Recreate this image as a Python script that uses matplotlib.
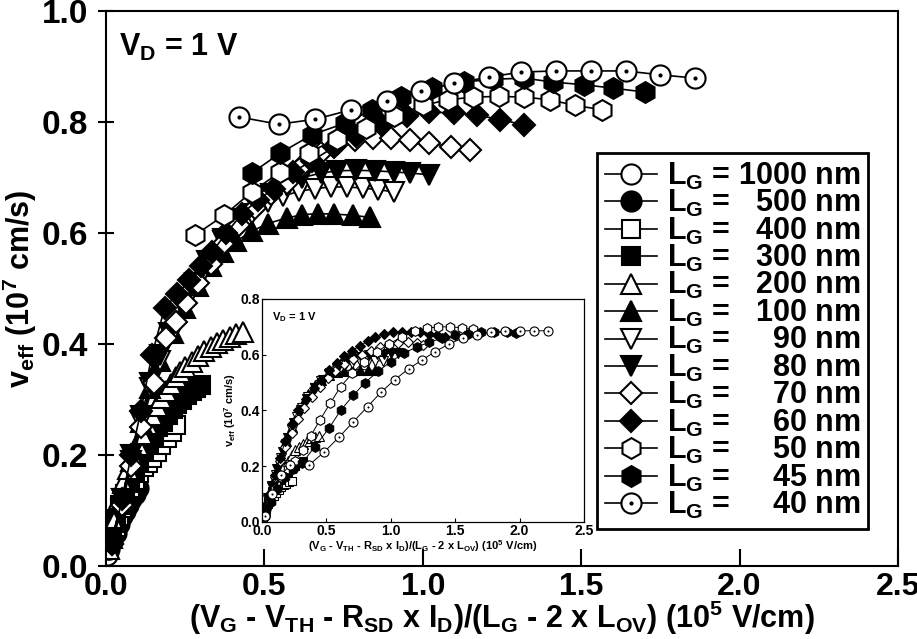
import numpy as np
import matplotlib.pyplot as plt
from matplotlib.ticker import FormatStrFormatter

plt.rcParams['font.family'] = 'Liberation Sans'
plt.rcParams['font.weight'] = 'bold'
plt.rcParams['mathtext.fontset'] = 'custom'
plt.rcParams['mathtext.rm'] = 'Liberation Sans:bold'
plt.rcParams['mathtext.it'] = 'Liberation Sans:bold'
plt.rcParams['mathtext.bf'] = 'Liberation Sans:bold'
plt.rcParams['mathtext.default'] = 'rm'

# gate lengths (nm), legend order
lengths = ['1000', '500', '400', '300', '200', '100', '90', '80', '70', '60', '50', '45', '40']

# ---- main plot data (x in 1e5 V/cm, v_eff in 1e7 cm/s) ----
x_1000 = [0.003, 0.006, 0.009, 0.012, 0.015, 0.018, 0.021, 0.024, 0.027, 0.03]
y_1000 = [0.02, 0.03, 0.037, 0.044, 0.05, 0.057, 0.063, 0.07, 0.076, 0.082]
x_500 = [0.01, 0.02, 0.03, 0.04, 0.05, 0.06, 0.07, 0.08, 0.09, 0.10]
y_500 = [0.03, 0.045, 0.06, 0.075, 0.09, 0.10, 0.11, 0.12, 0.13, 0.14]
x_400 = [0.01, 0.02, 0.03, 0.04, 0.05, 0.06, 0.075, 0.09, 0.105, 0.12, 0.132, 0.144, 0.16, 0.175, 0.191, 0.207, 0.222]
y_400 = [0.03, 0.05, 0.07, 0.09, 0.105, 0.12, 0.14, 0.155, 0.168, 0.178, 0.186, 0.195, 0.205, 0.218, 0.231, 0.241, 0.254]
x_300 = [0.01, 0.02, 0.03, 0.045, 0.06, 0.075, 0.09, 0.105, 0.12, 0.135, 0.15, 0.165, 0.18, 0.195, 0.21, 0.225, 0.24, 0.255, 0.27, 0.285, 0.30]
y_300 = [0.03, 0.06, 0.085, 0.11, 0.13, 0.15, 0.17, 0.19, 0.205, 0.22, 0.235, 0.25, 0.26, 0.272, 0.283, 0.292, 0.30, 0.308, 0.315, 0.32, 0.326]
x_200 = [0.01, 0.025, 0.04, 0.055, 0.07, 0.085, 0.10, 0.115, 0.13, 0.145, 0.16, 0.175, 0.19, 0.205, 0.22, 0.235, 0.25, 0.27, 0.29, 0.31, 0.33, 0.35, 0.37, 0.39, 0.41, 0.432]
y_200 = [0.03, 0.08, 0.12, 0.15, 0.175, 0.197, 0.218, 0.237, 0.255, 0.272, 0.288, 0.302, 0.316, 0.328, 0.34, 0.35, 0.358, 0.368, 0.378, 0.387, 0.395, 0.402, 0.408, 0.413, 0.418, 0.422]
x_100 = [0.02, 0.05, 0.08, 0.11, 0.14, 0.17, 0.21, 0.25, 0.29, 0.33, 0.37, 0.41, 0.46, 0.51, 0.57, 0.62, 0.67, 0.72, 0.78, 0.833]
y_100 = [0.05, 0.12, 0.19, 0.26, 0.32, 0.37, 0.42, 0.465, 0.505, 0.54, 0.565, 0.585, 0.603, 0.617, 0.627, 0.633, 0.635, 0.634, 0.632, 0.628]
x_90 = [0.02, 0.05, 0.08, 0.11, 0.14, 0.17, 0.21, 0.25, 0.29, 0.33, 0.37, 0.41, 0.46, 0.51, 0.56, 0.61, 0.66, 0.71, 0.76, 0.81, 0.86, 0.91]
y_90 = [0.05, 0.12, 0.19, 0.26, 0.32, 0.37, 0.42, 0.47, 0.51, 0.55, 0.585, 0.61, 0.635, 0.655, 0.667, 0.675, 0.68, 0.683, 0.683, 0.681, 0.678, 0.674]
x_80 = [0.02, 0.05, 0.08, 0.11, 0.14, 0.17, 0.20, 0.24, 0.28, 0.32, 0.37, 0.42, 0.47, 0.52, 0.57, 0.62, 0.68, 0.73, 0.79, 0.85, 0.91, 0.96, 1.02]
y_80 = [0.05, 0.12, 0.2, 0.27, 0.33, 0.38, 0.42, 0.47, 0.51, 0.55, 0.59, 0.625, 0.65, 0.67, 0.685, 0.70, 0.708, 0.712, 0.713, 0.712, 0.71, 0.708, 0.705]
x_70 = [0.02, 0.05, 0.08, 0.11, 0.15, 0.19, 0.22, 0.253, 0.29, 0.33, 0.37, 0.42, 0.47, 0.52, 0.57, 0.62, 0.68, 0.733, 0.786, 0.843, 0.9, 0.96, 1.02, 1.09, 1.15]
y_70 = [0.04, 0.11, 0.18, 0.25, 0.33, 0.41, 0.44, 0.474, 0.51, 0.545, 0.58, 0.615, 0.645, 0.67, 0.69, 0.72, 0.745, 0.762, 0.768, 0.771, 0.771, 0.768, 0.762, 0.755, 0.75]
x_60 = [0.02, 0.05, 0.08, 0.11, 0.145, 0.185, 0.225, 0.263, 0.30, 0.335, 0.38, 0.43, 0.48, 0.53, 0.59, 0.65, 0.72, 0.79, 0.87, 0.95, 1.02, 1.10, 1.17, 1.245, 1.32]
y_60 = [0.04, 0.12, 0.2, 0.28, 0.38, 0.465, 0.49, 0.515, 0.54, 0.566, 0.60, 0.635, 0.66, 0.68, 0.71, 0.73, 0.755, 0.775, 0.795, 0.81, 0.818, 0.816, 0.813, 0.804, 0.795]
x_50 = [0.28, 0.373, 0.46, 0.55, 0.64, 0.73, 0.82, 0.91, 1.0, 1.08, 1.16, 1.24, 1.32, 1.40, 1.48, 1.566]
y_50 = [0.596, 0.632, 0.674, 0.71, 0.745, 0.77, 0.79, 0.81, 0.83, 0.84, 0.845, 0.846, 0.845, 0.84, 0.83, 0.822]
x_45 = [0.46, 0.55, 0.65, 0.755, 0.84, 0.93, 1.03, 1.13, 1.22, 1.32, 1.41, 1.51, 1.60, 1.70]
y_45 = [0.708, 0.744, 0.777, 0.798, 0.822, 0.845, 0.862, 0.872, 0.877, 0.879, 0.872, 0.867, 0.861, 0.854]
x_40 = [0.42, 0.545, 0.661, 0.774, 0.887, 0.993, 1.10, 1.21, 1.31, 1.42, 1.53, 1.64, 1.75, 1.86]
y_40 = [0.809, 0.796, 0.805, 0.822, 0.838, 0.856, 0.870, 0.881, 0.890, 0.892, 0.892, 0.892, 0.885, 0.879]

# ---- inset data ----
ix_1000 = [0.005, 0.01, 0.015, 0.02, 0.025, 0.03, 0.035, 0.04]
iy_1000 = [0.01, 0.018, 0.025, 0.032, 0.04, 0.047, 0.054, 0.06]
ix_500 = [0.01, 0.02, 0.03, 0.045, 0.06, 0.075, 0.09, 0.11]
iy_500 = [0.02, 0.035, 0.05, 0.065, 0.08, 0.09, 0.10, 0.11]
ix_400 = [0.01, 0.03, 0.05, 0.07, 0.09, 0.11, 0.13, 0.15, 0.17, 0.19, 0.21, 0.23]
iy_400 = [0.02, 0.045, 0.065, 0.08, 0.095, 0.105, 0.115, 0.125, 0.132, 0.138, 0.143, 0.147]
ix_300 = [0.01, 0.03, 0.05, 0.08, 0.11, 0.14, 0.17, 0.20, 0.23, 0.26, 0.29, 0.32]
iy_300 = [0.02, 0.05, 0.08, 0.11, 0.13, 0.15, 0.165, 0.178, 0.19, 0.20, 0.21, 0.22]
ix_200 = [0.02, 0.05, 0.08, 0.11, 0.14, 0.17, 0.20, 0.23, 0.26, 0.29, 0.32, 0.35, 0.38, 0.41, 0.44]
iy_200 = [0.04, 0.08, 0.12, 0.15, 0.18, 0.20, 0.22, 0.24, 0.26, 0.27, 0.28, 0.29, 0.30, 0.305, 0.31]
ix_100 = [0.02, 0.05, 0.08, 0.11, 0.15, 0.19, 0.23, 0.27, 0.31, 0.36, 0.41, 0.46, 0.52, 0.58, 0.64, 0.70, 0.76, 0.82, 0.88]
iy_100 = [0.04, 0.08, 0.125, 0.17, 0.23, 0.29, 0.34, 0.385, 0.42, 0.46, 0.49, 0.51, 0.527, 0.537, 0.543, 0.546, 0.547, 0.546, 0.544]
ix_90 = [0.02, 0.05, 0.08, 0.11, 0.15, 0.19, 0.23, 0.27, 0.31, 0.36, 0.41, 0.46, 0.52, 0.58, 0.64, 0.70, 0.76, 0.82, 0.88, 0.94]
iy_90 = [0.04, 0.08, 0.125, 0.17, 0.23, 0.28, 0.33, 0.375, 0.41, 0.45, 0.48, 0.505, 0.53, 0.55, 0.563, 0.572, 0.577, 0.579, 0.579, 0.577]
ix_80 = [0.02, 0.05, 0.08, 0.12, 0.16, 0.20, 0.25, 0.30, 0.35, 0.41, 0.47, 0.53, 0.59, 0.65, 0.71, 0.77, 0.83, 0.89, 0.95, 1.0, 1.06]
iy_80 = [0.04, 0.085, 0.13, 0.19, 0.25, 0.30, 0.355, 0.40, 0.44, 0.48, 0.51, 0.535, 0.555, 0.57, 0.583, 0.592, 0.598, 0.602, 0.604, 0.605, 0.605]
ix_70 = [0.02, 0.06, 0.10, 0.14, 0.18, 0.23, 0.28, 0.33, 0.39, 0.45, 0.51, 0.57, 0.64, 0.71, 0.78, 0.85, 0.92, 0.99, 1.06, 1.13, 1.20, 1.25]
iy_70 = [0.04, 0.10, 0.16, 0.22, 0.27, 0.32, 0.37, 0.41, 0.45, 0.485, 0.515, 0.54, 0.565, 0.585, 0.60, 0.615, 0.627, 0.637, 0.643, 0.645, 0.642, 0.635]
ix_60 = [0.02, 0.06, 0.10, 0.14, 0.18, 0.23, 0.28, 0.34, 0.40, 0.46, 0.52, 0.58, 0.64, 0.70, 0.76, 0.82, 0.88, 0.95, 1.02, 1.09, 1.16, 1.23, 1.30, 1.36, 1.42]
iy_60 = [0.04, 0.10, 0.17, 0.23, 0.29, 0.35, 0.40, 0.44, 0.48, 0.51, 0.545, 0.57, 0.595, 0.615, 0.632, 0.648, 0.662, 0.673, 0.68, 0.683, 0.683, 0.68, 0.675, 0.67, 0.665]
ix_50 = [0.02, 0.06, 0.10, 0.15, 0.20, 0.26, 0.32, 0.38, 0.45, 0.53, 0.61, 0.70, 0.79, 0.89, 0.99, 1.09, 1.19, 1.28, 1.37, 1.46, 1.55, 1.64]
iy_50 = [0.02, 0.07, 0.12, 0.16, 0.19, 0.22, 0.26, 0.31, 0.366, 0.426, 0.485, 0.533, 0.575, 0.61, 0.64, 0.665, 0.685, 0.695, 0.70, 0.70, 0.697, 0.693]
ix_45 = [0.02, 0.07, 0.12, 0.18, 0.24, 0.31, 0.41, 0.52, 0.61, 0.71, 0.80, 0.90, 1.0, 1.1, 1.2, 1.3, 1.4, 1.5, 1.6, 1.7, 1.8, 1.9, 1.97]
iy_45 = [0.02, 0.07, 0.12, 0.16, 0.19, 0.21, 0.27, 0.336, 0.40, 0.455, 0.50, 0.54, 0.575, 0.605, 0.628, 0.645, 0.66, 0.67, 0.676, 0.68, 0.68, 0.68, 0.678]
ix_40 = [0.02, 0.08, 0.15, 0.22, 0.365, 0.48, 0.60, 0.71, 0.82, 0.925, 1.03, 1.14, 1.24, 1.34, 1.45, 1.56, 1.67, 1.78, 1.89, 2.0, 2.11, 2.22]
iy_40 = [0.02, 0.10, 0.17, 0.205, 0.204, 0.25, 0.305, 0.36, 0.414, 0.466, 0.51, 0.55, 0.58, 0.61, 0.638, 0.66, 0.672, 0.68, 0.685, 0.686, 0.686, 0.686]

main_x = [x_1000, x_500, x_400, x_300, x_200, x_100, x_90, x_80, x_70, x_60, x_50, x_45, x_40]
main_y = [y_1000, y_500, y_400, y_300, y_200, y_100, y_90, y_80, y_70, y_60, y_50, y_45, y_40]
ins_x = [ix_1000, ix_500, ix_400, ix_300, ix_200, ix_100, ix_90, ix_80, ix_70, ix_60, ix_50, ix_45, ix_40]
ins_y = [iy_1000, iy_500, iy_400, iy_300, iy_200, iy_100, iy_90, iy_80, iy_70, iy_60, iy_50, iy_45, iy_40]

# marker styles
markers = ['o', 'o', 's', 's', '^', '^', 'v', 'v', 'D', 'D', 'h', 'h', 'o']
faces = ['white', 'black', 'white', 'black', 'white', 'black', 'white', 'black',
         'white', 'black', 'white', 'black', 'white']
msize = {'o': 14.5, 's': 12.5, '^': 14.5, 'v': 14.5, 'D': 11, 'h': 15}

fig = plt.figure(figsize=(9.17, 6.39), dpi=100)
ax = fig.add_axes([0.1156, 0.1142, 0.8637, 0.8686])

handles = []
for i in range(len(lengths)):
    m = markers[i]
    ln, = ax.plot(main_x[i], main_y[i], color='black', lw=1.2, marker=m, ms=msize[m],
                  mfc=faces[i], mec='black', mew=1.5)
    if lengths[i] == '40':
        dot, = ax.plot(main_x[i], main_y[i], ls='none', marker='o', ms=3, color='black', mew=0)
        handles.append((ln, dot))
    else:
        handles.append(ln)

ax.set_xlim(0, 2.5)
ax.set_ylim(0, 1.0)
ax.set_xticks(np.arange(0, 2.51, 0.5))
ax.set_yticks(np.arange(0, 1.01, 0.2))
ax.xaxis.set_major_formatter(FormatStrFormatter('%.1f'))
ax.yaxis.set_major_formatter(FormatStrFormatter('%.1f'))
ax.tick_params(axis='x', direction='in', length=12, width=1.5, labelsize=23, pad=4)
ax.tick_params(axis='y', direction='inout', length=12, width=1.5, labelsize=24, pad=7)
for s in ax.spines.values():
    s.set_linewidth(1.5)
ax.set_xlabel('(V$_G$ - V$_{TH}$ - R$_{SD}$ x I$_D$)/(L$_G$ - 2 x L$_{OV}$) (10$^5$ V/cm)',
              fontsize=22, fontweight='bold', labelpad=-2)
ax.set_ylabel('v$_{eff}$ (10$^7$ cm/s)', fontsize=22, fontweight='bold', labelpad=2)
ax.text(0.017, 0.962, 'V$_D$ = 1 V', transform=ax.transAxes, fontsize=22,
        fontweight='bold', va='top', ha='left')

# legend labels with right-aligned numbers
labels = []
for L in lengths:
    pad = '  ' * (4 - len(L))
    labels.append('L$_G$ = ' + pad + L + ' nm')
leg = ax.legend(handles, labels, loc='upper left',
                bbox_to_anchor=(597 / 917, 1 - 153 / 639), bbox_transform=fig.transFigure,
                frameon=True, fancybox=False, edgecolor='black', framealpha=1,
                prop={'family': 'Liberation Sans', 'weight': 'bold', 'size': 22},
                labelspacing=-0.12, handlelength=1.7, handletextpad=0.35,
                borderpad=0.25, borderaxespad=0)
leg.get_frame().set_linewidth(2)

# ---- inset ----
ax2 = fig.add_axes([0.2857, 0.1831, 0.3511, 0.349])
isize = {'o': 6.5, 's': 6, '^': 7, 'v': 7, 'D': 5, 'h': 7}
for i in range(len(lengths)):
    m = markers[i]
    ax2.plot(ins_x[i], ins_y[i], color='black', lw=0.7, marker=m, ms=isize[m],
             mfc=faces[i], mec='black', mew=0.8)
    if lengths[i] == '40':
        ax2.plot(ins_x[i], ins_y[i], ls='none', marker='o', ms=1.5, color='black', mew=0)
ax2.set_xlim(0, 2.5)
ax2.set_ylim(0, 0.8)
ax2.set_xticks(np.arange(0, 2.51, 0.5))
ax2.set_yticks(np.arange(0, 0.81, 0.2))
ax2.xaxis.set_major_formatter(FormatStrFormatter('%.1f'))
ax2.yaxis.set_major_formatter(FormatStrFormatter('%.1f'))
ax2.tick_params(direction='in', length=3, width=0.8, labelsize=10, pad=1.5)
for s in ax2.spines.values():
    s.set_linewidth(0.9)
ax2.set_xlabel('(V$_G$ - V$_{TH}$ - R$_{SD}$ x I$_D$)/(L$_G$ - 2 x L$_{OV}$) (10$^5$ V/cm)',
               fontsize=8, fontweight='bold', labelpad=0)
ax2.set_ylabel('v$_{eff}$ (10$^7$ cm/s)', fontsize=8, fontweight='bold', labelpad=2)
ax2.text(0.03, 0.95, 'V$_D$ = 1 V', transform=ax2.transAxes, fontsize=8,
         fontweight='bold', va='top', ha='left')

fig.savefig('out.png', dpi=100)
